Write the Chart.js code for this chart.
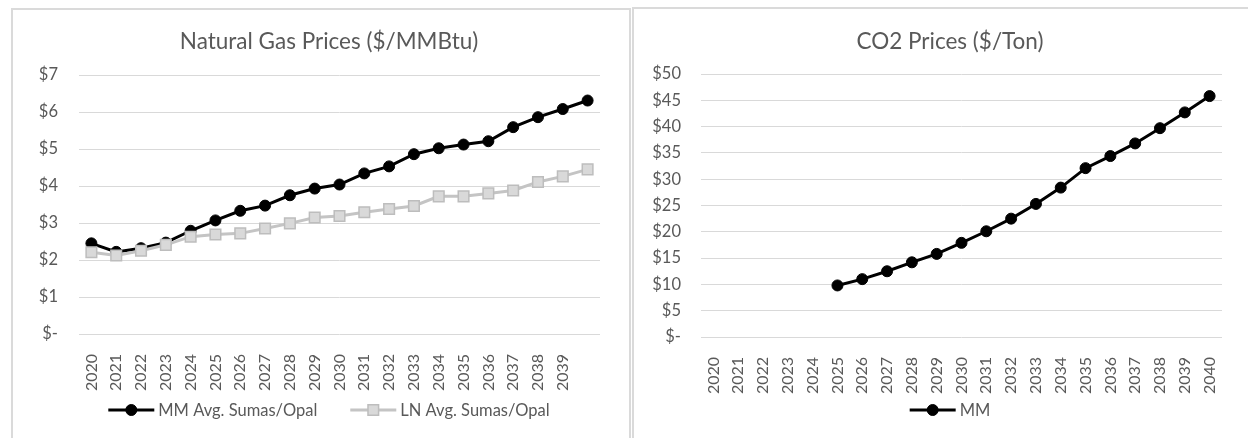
<!DOCTYPE html>
<html>
<head>
<meta charset="utf-8">
<script src="https://cdn.jsdelivr.net/npm/chart.js@4.4.1/dist/chart.umd.min.js"></script>
<style>
  html, body { margin: 0; padding: 0; background: #fff; width: 1248px; height: 438px; overflow: hidden; }
  .panel { position: absolute; border: 2px solid #dadada; box-sizing: border-box; }
  #panelGas { left: 11px; top: 8px; width: 620px; height: 440px; }
  #panelCo2 { left: 632px; top: 7px; width: 630px; height: 440px; }
  canvas { position: absolute; }
  #gasChart { left: 14px; top: 11px; }
  #co2Chart { left: 635px; top: 10px; }
</style>
</head>
<body>
<div class="panel" id="panelGas"></div>
<div class="panel" id="panelCo2"></div>
<canvas id="gasChart" width="616" height="427"></canvas>
<canvas id="co2Chart" width="613" height="428"></canvas>
<script>
// ---- Natural gas prices ($/MMBtu) ----
const gasYearLabels = ['2020','2021','2022','2023','2024','2025','2026','2027','2028','2029',
                       '2030','2031','2032','2033','2034','2035','2036','2037','2038','2039',''];
const gasMM = [2.45, 2.22, 2.32, 2.47, 2.79, 3.07, 3.33, 3.47, 3.75, 3.93,
               4.04, 4.34, 4.53, 4.86, 5.02, 5.12, 5.21, 5.59, 5.86, 6.08, 6.31];
const gasLN = [2.21, 2.12, 2.25, 2.41, 2.63, 2.69, 2.72, 2.85, 2.99, 3.15,
               3.19, 3.29, 3.38, 3.46, 3.72, 3.72, 3.80, 3.88, 4.11, 4.26, 4.45];
const gasTicks = { min: 0, max: 7, step: 1 };

// ---- CO2 prices ($/Ton) ----
const co2YearLabels = ['2020','2021','2022','2023','2024','2025','2026','2027','2028','2029','2030',
                       '2031','2032','2033','2034','2035','2036','2037','2038','2039','2040'];
const co2MM = [null, null, null, null, null, 9.8, 11.0, 12.5, 14.2, 15.8, 17.9,
               20.1, 22.5, 25.3, 28.4, 32.1, 34.4, 36.8, 39.7, 42.7, 45.8];
const co2Ticks = { min: 0, max: 50, step: 5 };

const FONT = "Lato, 'Open Sans', sans-serif";
const TEXT = '#595959';
const GRID = '#d9d9d9';

const dollar = v => (v === 0 ? '$-' : '$' + v);

// Title and line-with-marker legend drawn onto the canvas
const decorPlugin = {
  id: 'decor',
  afterDraw(chart, args, opts) {
    const ctx = chart.ctx;
    ctx.save();
    ctx.fillStyle = TEXT;
    ctx.font = opts.titleSize + 'px ' + FONT;
    ctx.textAlign = 'center';
    ctx.textBaseline = 'alphabetic';
    ctx.fillText(opts.title, opts.centerX, opts.titleBaseline);

    ctx.font = opts.legendSize + 'px ' + FONT;
    const lineLen = 46, gap = 4, itemGap = 33;
    const items = opts.items.map(i => {
      const ds = chart.data.datasets[i];
      return { ds, w: lineLen + gap + ctx.measureText(ds.label).width };
    });
    const total = items.reduce((s, it) => s + it.w, 0) + itemGap * (items.length - 1);
    let x = opts.centerX - total / 2;
    const y = opts.legendY;
    items.forEach(it => {
      const ds = it.ds;
      ctx.strokeStyle = ds.borderColor;
      ctx.lineWidth = ds.borderWidth;
      ctx.beginPath();
      ctx.moveTo(x, y);
      ctx.lineTo(x + lineLen, y);
      ctx.stroke();
      ctx.fillStyle = ds.pointBackgroundColor;
      ctx.strokeStyle = ds.pointBorderColor;
      ctx.lineWidth = ds.pointBorderWidth;
      Chart.helpers.drawPoint(ctx, {
        pointStyle: ds.pointStyle, radius: ds.pointRadius,
        borderWidth: ds.pointBorderWidth, rotation: 0
      }, x + lineLen / 2, y);
      ctx.fillStyle = TEXT;
      ctx.textAlign = 'left';
      ctx.textBaseline = 'middle';
      ctx.fillText(ds.label, x + lineLen + gap, y + 1);
      x += it.w + itemGap;
    });
    ctx.restore();
  }
};

function makeScales(ticks, yWidth, yPad, xHeight) {
  return {
    x: {
      offset: true,
      grid: { display: false },
      border: { display: false },
      ticks: {
        autoSkip: false, minRotation: 90, maxRotation: 90,
        padding: 12, color: TEXT, font: { family: FONT, size: 16 }
      },
      afterFit(s) { s.height = xHeight; }
    },
    y: {
      min: ticks.min, max: ticks.max,
      grid: { color: GRID, lineWidth: 1, drawTicks: false },
      border: { display: false },
      ticks: {
        stepSize: ticks.step, padding: yPad, color: TEXT,
        font: { family: FONT, size: 16.5 }, callback: dollar
      },
      afterFit(s) { s.width = yWidth; }
    }
  };
}

const blackLine = {
  borderColor: '#000000', backgroundColor: '#000000', borderWidth: 3,
  pointStyle: 'circle', pointRadius: 5.5, pointBorderWidth: 1,
  pointBackgroundColor: '#000000', pointBorderColor: '#000000',
  tension: 0, spanGaps: false
};

new Chart(document.getElementById('gasChart'), {
  type: 'line',
  data: {
    labels: gasYearLabels,
    datasets: [
      Object.assign({ label: 'MM Avg. Sumas/Opal', data: gasMM, order: 1 }, blackLine),
      {
        label: 'LN Avg. Sumas/Opal', data: gasLN, order: 0,
        borderColor: '#c4c4c4', backgroundColor: '#d9d9d9', borderWidth: 3,
        pointStyle: 'rect', pointRadius: 7.5, pointBorderWidth: 1.5,
        pointBackgroundColor: '#d9d9d9', pointBorderColor: '#bdbdbd', tension: 0
      }
    ]
  },
  options: {
    responsive: false, animation: false,
    layout: { padding: { left: 0, right: 30, top: 64, bottom: 0 } },
    scales: makeScales(gasTicks, 65, 21, 104),
    plugins: {
      legend: { display: false }, tooltip: { enabled: false }, title: { display: false },
      decor: {
        title: 'Natural Gas Prices ($/MMBtu)', titleSize: 22.5, titleBaseline: 38,
        centerX: 315, legendY: 399, legendSize: 16.5, items: [0, 1]
      }
    }
  },
  plugins: [decorPlugin]
});

new Chart(document.getElementById('co2Chart'), {
  type: 'line',
  data: {
    labels: co2YearLabels,
    datasets: [
      Object.assign({ label: 'MM', data: co2MM }, blackLine)
    ]
  },
  options: {
    responsive: false, animation: false,
    layout: { padding: { left: 0, right: 26, top: 64, bottom: 0 } },
    scales: makeScales(co2Ticks, 66, 20, 101),
    plugins: {
      legend: { display: false }, tooltip: { enabled: false }, title: { display: false },
      decor: {
        title: 'CO2 Prices ($/Ton)', titleSize: 22.5, titleBaseline: 39,
        centerX: 315, legendY: 400, legendSize: 16.5, items: [0]
      }
    }
  },
  plugins: [decorPlugin]
});
</script>
</body>
</html>
